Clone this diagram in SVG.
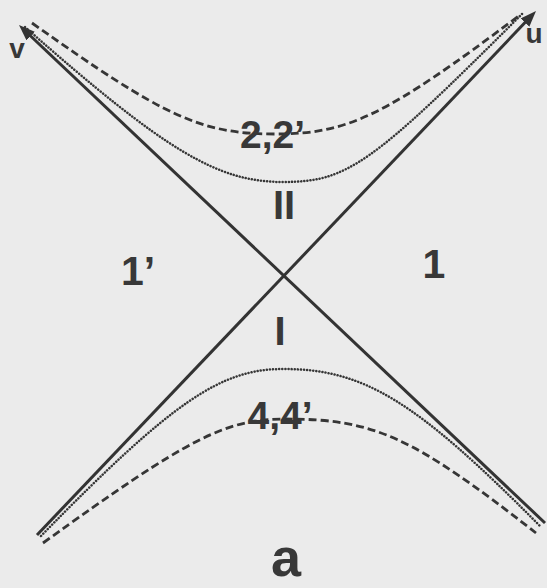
<svg xmlns="http://www.w3.org/2000/svg" width="547" height="588" viewBox="0 0 547 588">
  <style>
    .bg { fill: #ebebeb; }
    .axis { stroke: #333333; stroke-width: 3; fill: none; }
    .dash { stroke: #363636; stroke-width: 2.8; fill: none; stroke-dasharray: 8 4; }
    .dot { stroke: #363636; stroke-width: 2.5; fill: none; stroke-dasharray: 0.1 3; stroke-linecap: round; }
    .lbl { font-family: "Liberation Sans", Arial, Helvetica, sans-serif; font-weight: bold; fill: #383838; text-anchor: middle; }
  </style>
  <defs>
    <marker id="arrow" viewBox="0 0 16 12" refX="8" refY="6" markerWidth="16" markerHeight="12" markerUnits="userSpaceOnUse" orient="auto">
      <path d="M0,0 L16,6 L0,12 z" fill="#333333"/>
    </marker>
  </defs>
  <rect class="bg" x="0" y="0" width="547" height="588"/>

  <g id="connectors">
    <line id="axis-v" class="axis" x1="545" y1="523" x2="24.8" y2="30.5" marker-end="url(#arrow)"/>
    <line id="axis-u" class="axis" x1="37" y1="535" x2="530.5" y2="16.8" marker-end="url(#arrow)"/>
    <path id="hyp-2-dashed" class="dash" d="M32,23 C164.9,117.4 201.3,134 275,134 C348.4,134 385.1,116.2 520,15"/>
    <path id="hyp-2-dotted" class="dot" d="M25,27 C165.8,151 217.4,182 283,182 C346.9,182 370.8,165.2 522,14"/>
    <path id="hyp-4-dotted" class="dot" d="M41,536 C172.4,401.6 220.6,369 283,369 C363.8,369 415,400 540,526"/>
    <path id="hyp-4-dashed" class="dash" d="M43,543 C189.2,437.6 225.5,419 285,419 C374.3,419 411.9,436.1 536,533"/>
  </g>

  <g id="labels">
    <text id="label-v" class="lbl" x="17" y="58" font-size="28">v</text>
    <text id="label-u" class="lbl" x="534" y="43" font-size="28">u</text>
    <text id="label-22" class="lbl" x="272.5" y="148" font-size="39">2,2’</text>
    <text id="label-II" class="lbl" x="284" y="219" font-size="40">II</text>
    <text id="label-1p" class="lbl" x="138" y="285" font-size="41">1’</text>
    <text id="label-1" class="lbl" x="434" y="278" font-size="41">1</text>
    <text id="label-I" class="lbl" x="280" y="345" font-size="40">I</text>
    <text id="label-44" class="lbl" x="280" y="429" font-size="39">4,4’</text>
    <text id="label-a" class="lbl" x="286" y="576" font-size="54">a</text>
  </g>
</svg>
